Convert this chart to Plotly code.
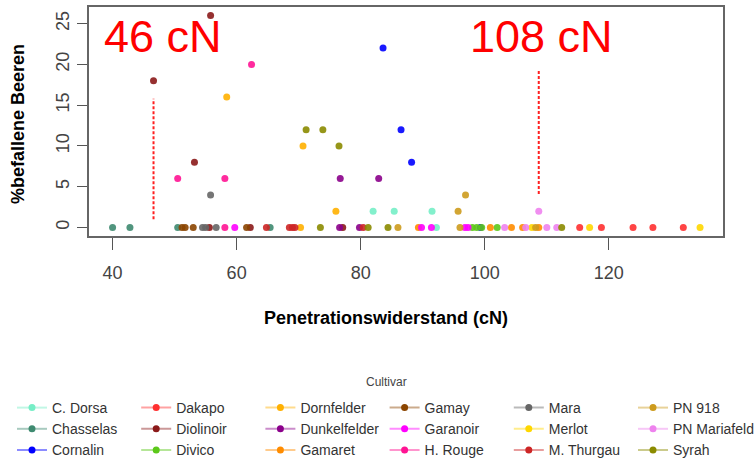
import plotly.graph_objects as go

# ---- data ----
cultivars = ["C. Dorsa", "Chasselas", "Cornalin", "Dakapo", "Diolinoir", "Divico",
             "Dornfelder", "Dunkelfelder", "Gamaret", "Gamay", "Garanoir", "H. Rouge",
             "Mara", "Merlot", "M. Thurgau", "PN 918", "PN Mariafeld", "Syrah"]

colors = {
    "C. Dorsa": "#76EEC6", "Chasselas": "#3E8A70", "Cornalin": "#0000FF",
    "Dakapo": "#FF3030", "Diolinoir": "#8B1A1A", "Divico": "#5CC81A",
    "Dornfelder": "#FFB000", "Dunkelfelder": "#8B008B", "Gamaret": "#FF8C00",
    "Gamay": "#8B4500", "Garanoir": "#FF00FF", "H. Rouge": "#FF1493",
    "Mara": "#666666", "Merlot": "#FFD700", "M. Thurgau": "#CD2626",
    "PN 918": "#CD9B1D", "PN Mariafeld": "#EE82EE", "Syrah": "#8B8B00",
}

x_c_dorsa = [82.0, 85.4, 91.5, 92.2]
y_c_dorsa = [2, 2, 2, 0]
x_chasselas = [40.0, 42.8, 50.5, 65.4]
y_chasselas = [0, 0, 0, 0]
x_cornalin = [83.6, 86.5, 88.2, 99.3]
y_cornalin = [22, 12, 8, 0]
x_dakapo = [115.3, 118.8, 123.9, 127.1, 132.0]
y_dakapo = [0, 0, 0, 0, 0]
x_diolinoir = [46.6, 55.8, 53.2, 55.6, 62.2, 77.1]
y_diolinoir = [18, 26, 8, 0, 0, 0]
x_divico = [98.0, 98.7, 99.5, 102.0]
y_divico = [0, 0, 0, 0]
x_dornfelder = [58.4, 70.7, 76.0, 70.3]
y_dornfelder = [16, 10, 2, 0]
x_dunkelfelder = [76.7, 82.9, 76.6, 79.8]
y_dunkelfelder = [6, 6, 0, 0]
x_gamaret = [89.3, 100.9, 104.3, 106.1, 108.7]
y_gamaret = [0, 0, 0, 0, 0]
x_gamay = [51.2, 51.7, 53.0, 61.6]
y_gamay = [0, 0, 0, 0]
x_garanoir = [59.7, 89.8, 91.4, 96.8, 97.3]
y_garanoir = [0, 0, 0, 0, 0]
x_h_rouge = [62.4, 50.5, 58.1, 58.1]
y_h_rouge = [20, 6, 6, 0]
x_mara = [55.8, 54.5, 55.0, 56.7]
y_mara = [4, 0, 0, 0]
x_merlot = [107.6, 116.9, 134.7]
y_merlot = [0, 0, 0]
x_m_thurgau = [64.8, 68.5, 69.0, 69.4, 80.4]
y_m_thurgau = [0, 0, 0, 0, 0]
x_pn918 = [95.7, 96.9, 86.0, 96.0, 108.2]
y_pn918 = [2, 4, 0, 0, 0]
x_pn_mariafeld = [108.7, 103.2, 106.6, 110.0, 111.6]
y_pn_mariafeld = [2, 0, 0, 0, 0]
x_syrah = [71.2, 73.9, 76.5, 73.5, 81.2, 84.4, 112.4]
y_syrah = [12, 12, 10, 0, 0, 0, 0]

series = {
    "C. Dorsa": (x_c_dorsa, y_c_dorsa), "Chasselas": (x_chasselas, y_chasselas),
    "Cornalin": (x_cornalin, y_cornalin), "Dakapo": (x_dakapo, y_dakapo),
    "Diolinoir": (x_diolinoir, y_diolinoir), "Divico": (x_divico, y_divico),
    "Dornfelder": (x_dornfelder, y_dornfelder), "Dunkelfelder": (x_dunkelfelder, y_dunkelfelder),
    "Gamaret": (x_gamaret, y_gamaret), "Gamay": (x_gamay, y_gamay),
    "Garanoir": (x_garanoir, y_garanoir), "H. Rouge": (x_h_rouge, y_h_rouge),
    "Mara": (x_mara, y_mara), "Merlot": (x_merlot, y_merlot),
    "M. Thurgau": (x_m_thurgau, y_m_thurgau), "PN 918": (x_pn918, y_pn918),
    "PN Mariafeld": (x_pn_mariafeld, y_pn_mariafeld), "Syrah": (x_syrah, y_syrah),
}

# threshold markers (cN) and their dashed segment extents
threshold_x = [46.6, 108.7]
threshold_y0 = [1.0, 4.1]
threshold_y1 = [15.8, 19.2]
threshold_labels = ["46 cN", "108 cN"]

x_ticks = [40, 60, 80, 100, 120]
y_ticks = [0, 5, 10, 15, 20, 25]

FONT = "Liberation Sans, Arial, sans-serif"


def rgba(hexc, a):
    h = hexc.lstrip("#")
    return "rgba(%d,%d,%d,%.2f)" % (int(h[0:2], 16), int(h[2:4], 16), int(h[4:6], 16), a)


fig = go.Figure()

for name in cultivars:
    xs, ys = series[name]
    fig.add_trace(go.Scatter(x=xs, y=ys, mode="markers", name=name, showlegend=False,
                             marker=dict(size=7, color=colors[name], opacity=0.9,
                                         line=dict(width=0))))

# legend: 6 columns x 3 rows, filled column by column -> one vertical legend per column
ncol, nrow = 6, 3
legend_ids = ["legend"] + ["legend%d" % (k + 1) for k in range(1, ncol)]
for c in range(ncol):
    for r in range(nrow):
        name = cultivars[c * nrow + r]
        fig.add_trace(go.Scatter(x=[None], y=[None], mode="lines+markers", name=name,
                                 legend=legend_ids[c],
                                 line=dict(color=rgba(colors[name], 0.45), width=2),
                                 marker=dict(size=7, color=colors[name])))

for xv, y0, y1 in zip(threshold_x, threshold_y0, threshold_y1):
    fig.add_shape(type="line", x0=xv, x1=xv, y0=y0, y1=y1, xref="x", yref="y",
                  line=dict(color="#FF2020", width=2, dash="3px,2px"))

ann_x_px = [102, 468]
for lbl, px in zip(threshold_labels, ann_x_px):
    fig.add_annotation(text=lbl, x=(px - 89) / 634, y=(236 - 37) / 229, xref="paper", yref="paper",
                       xanchor="left", yanchor="middle", showarrow=False,
                       font=dict(family=FONT, size=45, color="#FF0000"))

fig.add_annotation(text="<b>Penetrationswiderstand (cN)</b>", x=(386 - 89) / 634, y=(236 - 318) / 229,
                   xref="paper", yref="paper", showarrow=False, xanchor="center", yanchor="middle",
                   font=dict(family=FONT, size=18, color="#000000"))
fig.add_annotation(text="<b>%befallene Beeren</b>", x=(18 - 89) / 634, y=(236 - 124) / 229,
                   xref="paper", yref="paper", showarrow=False, xanchor="center", yanchor="middle",
                   textangle=-90, font=dict(family=FONT, size=18, color="#000000"))
fig.add_annotation(text="Cultivar", x=(386 - 89) / 634, y=(236 - 382) / 229, xref="paper", yref="paper",
                   showarrow=False, xanchor="center", yanchor="middle",
                   font=dict(family=FONT, size=12, color="#444444"))

legend_common = dict(orientation="v", xref="container", yref="container", xanchor="left",
                     y=(461 - 392) / 461, yanchor="top",
                     font=dict(family=FONT, size=14, color="#333333"),
                     bgcolor="rgba(0,0,0,0)")
legend_layout = {}
for c, lid in enumerate(legend_ids):
    legend_layout[lid] = dict(x=(12 + c * 124.2) / 755, **legend_common)

fig.update_layout(
    width=755, height=461,
    margin=dict(l=89, r=32, t=7, b=225, autoexpand=False),
    paper_bgcolor="white", plot_bgcolor="white",
    font=dict(family=FONT, color="#444444"),
    xaxis=dict(range=[36.2, 138.4], tickvals=x_ticks, showgrid=False, zeroline=False,
               showline=True, mirror=True, linecolor="#666666", linewidth=1.5,
               ticks="outside", ticklen=12, tickcolor="#555555", tickwidth=1.3,
               ticklabelstandoff=8, tickfont=dict(size=18, color="#444444")),
    yaxis=dict(range=[-1.04, 27.04], tickvals=y_ticks, showgrid=False, zeroline=False,
               showline=True, mirror=True, linecolor="#666666", linewidth=1.5,
               ticks="outside", ticklen=10, tickcolor="#555555", tickwidth=1.3,
               tickangle=-90, ticklabelstandoff=1, tickfont=dict(size=18, color="#444444")),
    **legend_layout,
)

fig.write_html("out.html")
